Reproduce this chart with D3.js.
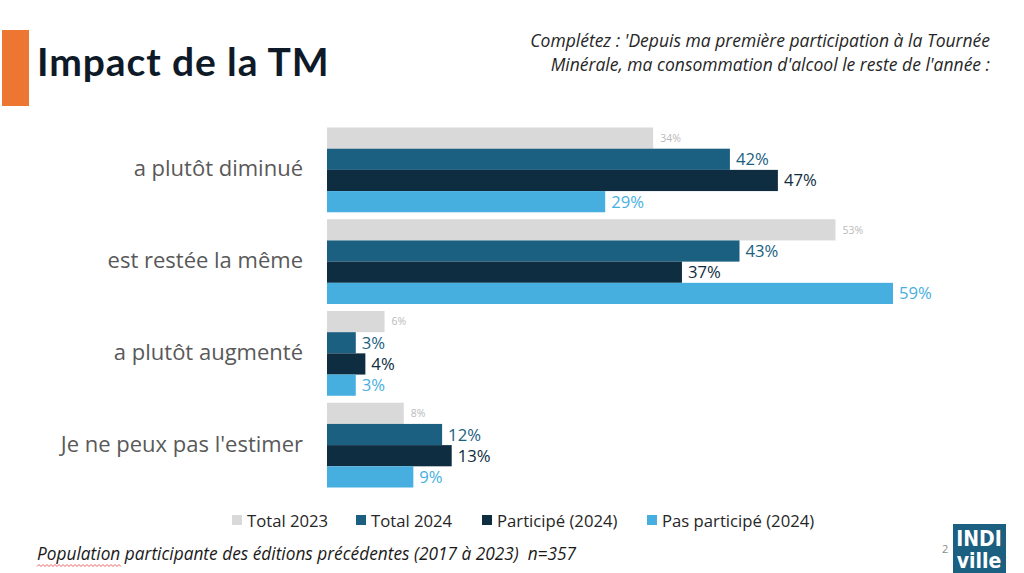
<!DOCTYPE html>
<html><head><meta charset="utf-8">
<script src="https://cdn.jsdelivr.net/npm/d3@7"></script>
<style>html,body{margin:0;padding:0;background:#fff;}svg{display:block;}</style>
</head><body>
<script>
const categories = ["a plutôt diminué","est restée la même","a plutôt augmenté","Je ne peux pas l'estimer"];
const seriesNames = ["Total 2023","Total 2024","Participé (2024)","Pas participé (2024)"];
const total2023 = [34,53,6,8];
const total2024 = [42,43,3,12];
const participe2024 = [47,37,4,13];
const pasParticipe2024 = [29,59,3,9];
const seriesValues = [total2023,total2024,participe2024,pasParticipe2024];
const colors = ["#d9d9d9","#1b5f81","#0e2d40","#46afe0"];
const labelColors = ["#bababa","#1b5f81","#0e2d40","#46afe0"];

const W=1024,H=573;
const svg=d3.select("body").append("svg").attr("width",W).attr("height",H);
svg.append("rect").attr("width",W).attr("height",H).attr("fill","#fff");

// Title
svg.append("rect").attr("x",2).attr("y",30).attr("width",27).attr("height",76).attr("fill","#ee7633");
svg.append("text").attr("x",37).attr("y",76).attr("font-family","Lato").attr("font-weight",700)
  .attr("font-size",39).attr("fill","#0f1a28").attr("letter-spacing",0.9).text("Impact de la TM");

// Subtitle
const sub=svg.append("text").attr("text-anchor","end").attr("font-family","Open Sans").attr("font-style","italic")
  .attr("font-size",17.5).attr("fill","#262626");
sub.append("tspan").attr("x",990).attr("y",47).text("Complétez : 'Depuis ma première participation à la Tournée");
sub.append("tspan").attr("x",990).attr("y",71).text("Minérale, ma consommation d'alcool le reste de l'année :");

// Scales
const y0=d3.scaleBand().domain(categories).range([127.5,487.5]).paddingInner(7/92).paddingOuter(0);
const y1=d3.scaleBand().domain(d3.range(4)).range([0,y0.bandwidth()]);
const x=d3.scaleLinear().domain([0,59]).range([327,893]);

const g=svg.append("g");
categories.forEach((c,i)=>{
  const gy=y0(c);
  seriesValues.forEach((vals,s)=>{
    const v=vals[i];
    g.append("rect").attr("x",x(0)).attr("y",gy+y1(s)).attr("width",x(v)-x(0)).attr("height",y1.bandwidth()).attr("fill",colors[s]);
    g.append("text").attr("x",x(v)+(s===0?7:6)).attr("y",gy+y1(s)+y1.bandwidth()/2)
      .attr("dy","0.36em").attr("font-family","Open Sans").attr("font-size",s===0?10.5:16.7)
      .attr("fill",labelColors[s]).text(v+"%");
  });
});

// Category axis
const yAxis=d3.axisLeft(y0).tickSize(0).tickPadding(0);
const ax=svg.append("g").attr("transform","translate(303,0)").call(yAxis);
ax.select(".domain").remove();
ax.selectAll("text").attr("font-family","Open Sans").attr("font-size",22).attr("fill","#595959").attr("dy","0.3em");

// Legend
const legX=[232,356,482,647];
seriesNames.forEach((n,s)=>{
  svg.append("rect").attr("x",legX[s]).attr("y",515).attr("width",10).attr("height",10).attr("fill",colors[s]);
  svg.append("text").attr("x",legX[s]+15).attr("y",526.5).attr("font-family","Open Sans").attr("font-size",16.7)
    .attr("fill","#262626").text(n);
});

// Footer
svg.append("text").attr("x",37).attr("y",560).attr("font-family","Open Sans").attr("font-style","italic")
  .attr("font-size",17.3).attr("fill","#1a1a1a").style("white-space","pre")
  .text("Population participante des éditions précédentes (2017 à 2023)  n=357");
// spellcheck squiggle
svg.append("path").attr("d",d3.range(37,122,2).map((xx,k)=>(k?"L":"M")+xx+","+(k%2?564.5:566.5)).join(" "))
  .attr("fill","none").attr("stroke","#e23b3b").attr("stroke-width",0.8);

// Page number and logo
svg.append("text").attr("x",942).attr("y",553).attr("font-family","Open Sans").attr("font-size",11).attr("fill","#8a8a8a").text("2");
svg.append("rect").attr("x",953).attr("y",524).attr("width",53).attr("height",49).attr("fill","#1b5f81");
svg.append("text").attr("x",979).attr("y",546).attr("text-anchor","middle").attr("font-family","Liberation Sans Narrow, DejaVu Sans Condensed").attr("font-weight",700).attr("font-size",21).attr("fill","#fff").text("INDI");
svg.append("text").attr("x",979).attr("y",568).attr("text-anchor","middle").attr("font-family","Liberation Sans Narrow, DejaVu Sans Condensed").attr("font-weight",700).attr("font-size",21).attr("fill","#fff").text("ville");
</script>
</body></html>
